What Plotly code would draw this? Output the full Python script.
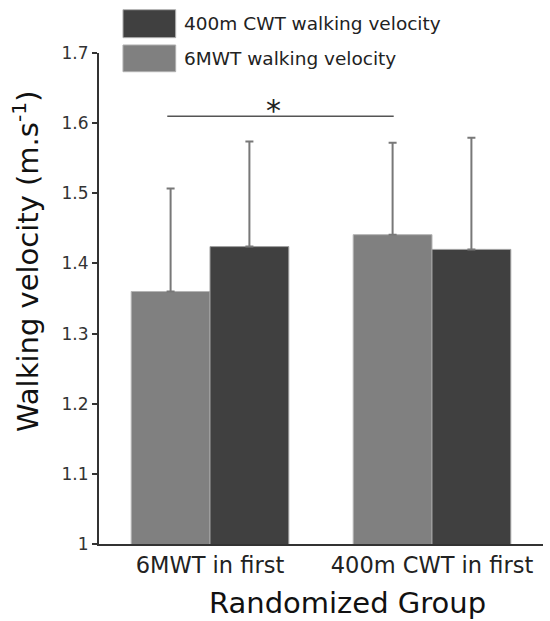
import plotly.graph_objects as go

groups = ["6MWT in first", "400m CWT in first"]
series_names = ["400m CWT walking velocity", "6MWT walking velocity"]
six_mwt_mean = [1.360, 1.441]
six_mwt_sd = [0.147, 0.131]
cwt_mean = [1.424, 1.420]
cwt_sd = [0.150, 0.159]
sig_level = 1.61
sig_label = "*"
y_ticks = [1.0, 1.1, 1.2, 1.3, 1.4, 1.5, 1.6, 1.7]
y_ticktext = ["1", "1.1", "1.2", "1.3", "1.4", "1.5", "1.6", "1.7"]
x_title = "Randomized Group"
y_title = "Walking velocity (m.s<sup>-1</sup>)"

GRAY = "#808080"
DARK = "#404040"
ERR = "#787878"
FONT = "DejaVu Sans"
bargap = 0.29

fig = go.Figure()
fig.add_trace(go.Bar(
    x=groups, y=six_mwt_mean, name=series_names[1],
    marker=dict(color=GRAY, line=dict(color="#b5b5b5", width=1)),
    error_y=dict(type="data", array=six_mwt_sd, arrayminus=[0, 0], symmetric=False,
                 color=ERR, thickness=2, width=4),
))
fig.add_trace(go.Bar(
    x=groups, y=cwt_mean, name=series_names[0],
    marker=dict(color=DARK, line=dict(color="#a0a0a0", width=1)),
    error_y=dict(type="data", array=cwt_sd, arrayminus=[0, 0], symmetric=False,
                 color=ERR, thickness=2, width=4),
))

# significance bracket between 6MWT bars of both groups
half = (1 - bargap) / 4
x0 = 0 - half - 0.015
x1 = 1 - half + 0.005
fig.add_shape(type="line", xref="x", yref="y", x0=x0, x1=x1, y0=sig_level, y1=sig_level,
              line=dict(color="#555555", width=1.5))
fig.add_annotation(x=(x0 + x1) / 2 - 0.03, y=sig_level, xref="x", yref="y", text=sig_label,
                   showarrow=False, yanchor="bottom", yshift=-14,
                   font=dict(family=FONT, size=30, color="#222222"))

# legend swatches
legend_items = [(series_names[0], DARK, 1.0882, 1.0312), (series_names[1], GRAY, 1.0163, 0.9619)]
for name, col, ytop, ybot in legend_items:
    fig.add_shape(type="rect", xref="paper", yref="paper", x0=0.054, x1=0.1727, y0=ybot, y1=ytop,
                  fillcolor=col, line=dict(color="#b0b0b0", width=1))
    fig.add_annotation(xref="paper", yref="paper", x=0.187, y=(ytop + ybot) / 2, text=name,
                       showarrow=False, xanchor="left", yanchor="middle",
                       font=dict(family=FONT, size=18.5, color="#222222"))

# axis titles
fig.add_annotation(xref="paper", yref="paper", x=(347 - 99) / 444, y=(544 - 603) / 491,
                   text=x_title, showarrow=False, xanchor="center", yanchor="middle",
                   font=dict(family=FONT, size=29, color="#111111"))
fig.add_annotation(xref="paper", yref="paper", x=(26 - 99) / 444, y=(544 - 261) / 491,
                   text=y_title, showarrow=False, textangle=-90, xanchor="center", yanchor="middle",
                   font=dict(family=FONT, size=29, color="#111111"))

fig.update_layout(
    width=550, height=621,
    margin=dict(l=99, r=7, t=53, b=77, autoexpand=False),
    paper_bgcolor="white", plot_bgcolor="white",
    barmode="group", bargap=bargap, bargroupgap=0,
    showlegend=False,
    font=dict(family=FONT, color="#222222"),
)
fig.update_xaxes(showline=True, linecolor="#333333", linewidth=2, ticks="", showgrid=False,
                 tickfont=dict(family=FONT, size=22.5, color="#222222"), range=[-0.5, 1.5])
fig.update_yaxes(showline=True, linecolor="#333333", linewidth=2, ticks="outside", ticklen=5,
                 tickcolor="#333333", tickwidth=1.5, showgrid=False, zeroline=False,
                 range=[1.0, 1.7], tickvals=y_ticks, ticktext=y_ticktext,
                 tickfont=dict(family=FONT, size=17, color="#333333"))

fig.write_html("out.html")
